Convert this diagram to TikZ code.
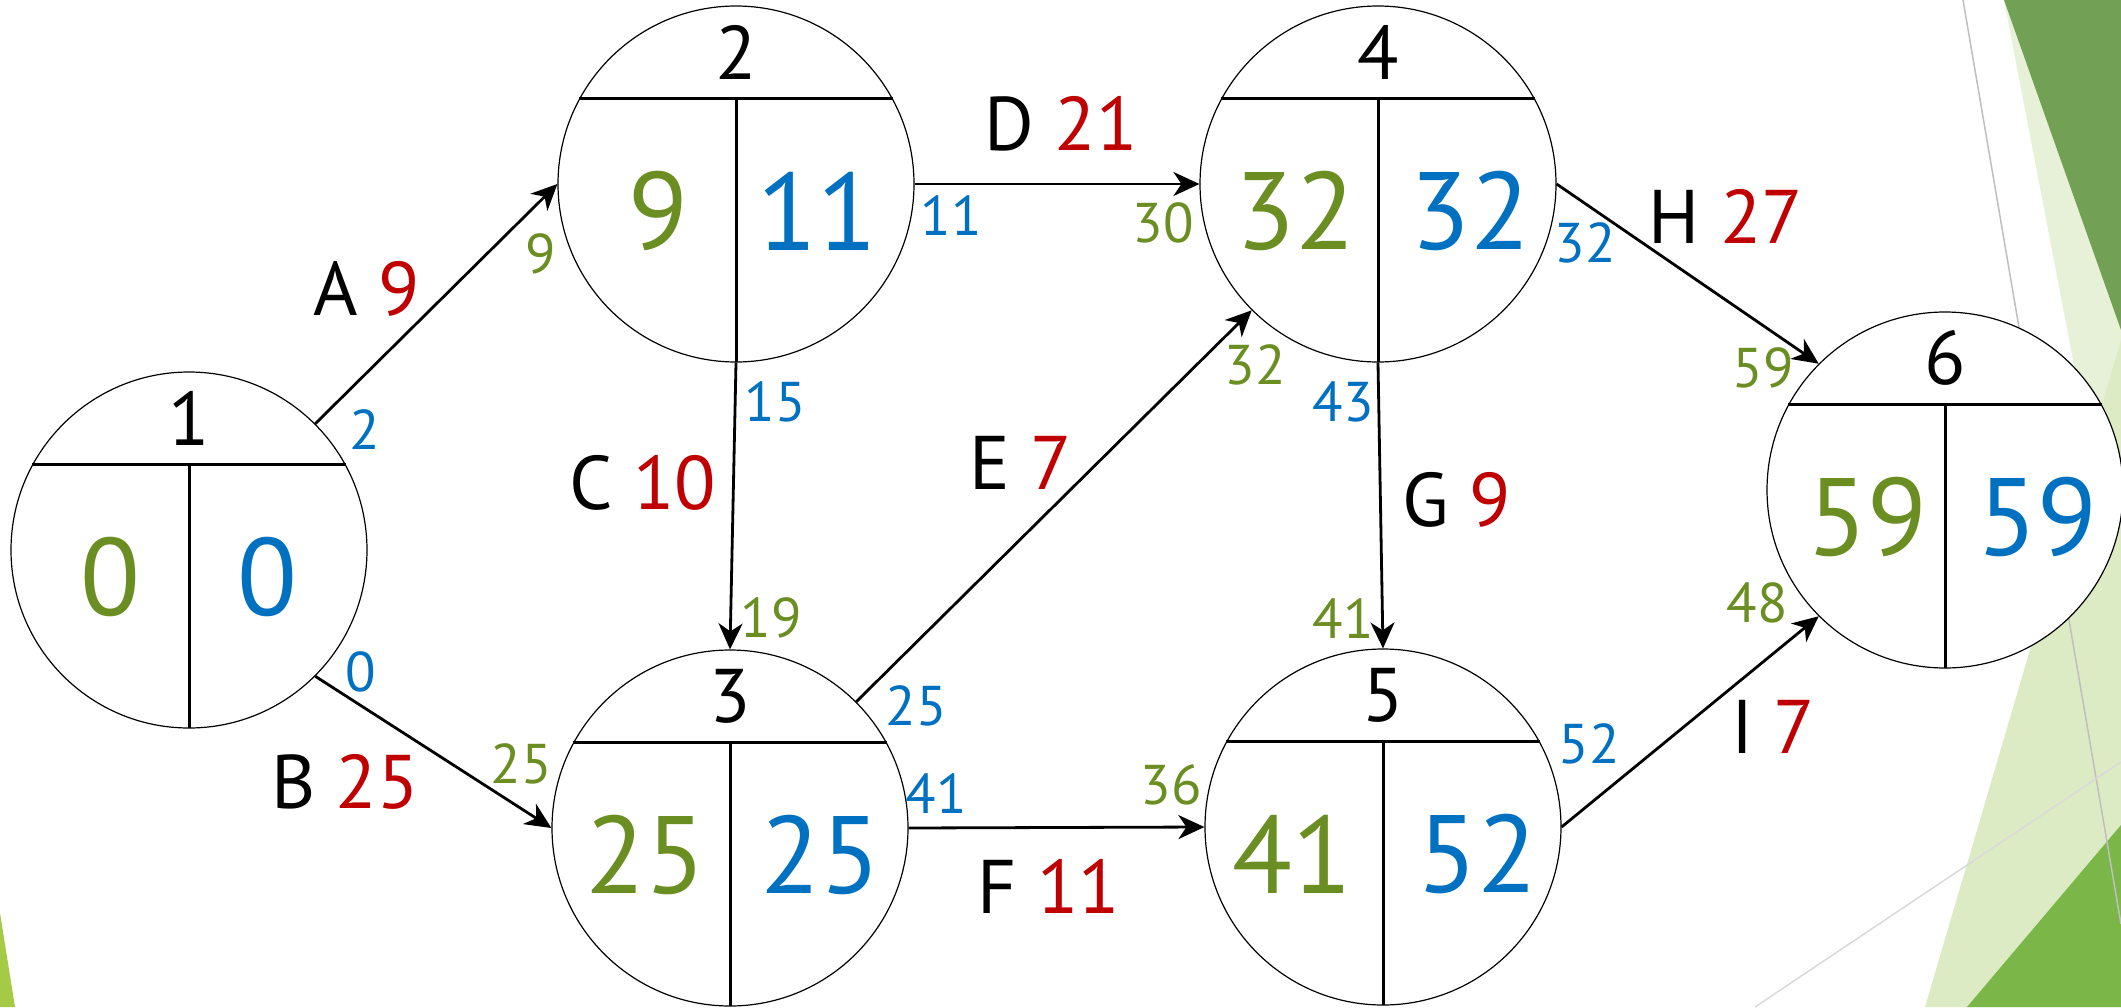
\documentclass[tikz,border=0pt]{standalone}
\usepackage{fontspec}
\setmainfont{PT Sans}
\usetikzlibrary{calc,arrows.meta}
\definecolor{cgreen}{RGB}{107,142,35}
\definecolor{cblue}{RGB}{0,112,192}
\definecolor{cred}{RGB}{192,0,0}
\definecolor{darkleaf}{RGB}{114,160,84}
\definecolor{paleleaf}{RGB}{221,235,196}
\definecolor{paleleafb}{RGB}{231,241,216}
\definecolor{midleaf}{RGB}{122,182,72}
\definecolor{limeleaf}{RGB}{165,203,70}
\begin{document}
\begin{tikzpicture}[x=0.5pt,y=-0.5pt,
  state/.style={circle,draw,line width=0.6pt,fill=white,minimum size=178pt,inner sep=0pt},
  divider/.style={line width=1.5pt},
  arc/.style={line width=1.4pt,-{Stealth[length=13pt,width=12pt,inset=4pt]}},
  idx/.style={inner sep=0pt,font=\fontsize{38}{40}\selectfont},
  big/.style={inner sep=0pt,font=\fontsize{55}{60}\selectfont},
  small/.style={inner sep=0pt,font=\fontsize{28}{30}\selectfont},
  edgelab/.style={inner sep=0pt,font=\fontsize{38}{40}\selectfont},
  thinline/.style={line width=0.75pt}
]
\useasboundingbox[fill=white] (0,0) rectangle (2121,1007);
% background decoration
\fill[paleleafb] (2004,0) -- (2121,0) -- (2121,610) -- cycle;
\fill[paleleaf] (2121,340) -- (2121,1007) -- (1925,1007) -- cycle;
\fill[darkleaf] (2004,0) -- (2121,0) -- (2121,330) -- cycle;
\fill[midleaf] (1967,1007) -- (2121,825) -- (2121,1007) -- cycle;
\fill[limeleaf] (0,913) -- (15,1007) -- (0,1007) -- cycle;
\draw[thinline,gray!50] (1963,0) -- (2121,924);
\draw[thinline,gray!30] (1755,1007) -- (2121,762);
% states
\node[state] (n1) at (189,550) {};
\node[state] (n2) at (736,184) {};
\node[state] (n3) at (730,828) {};
\node[state] (n4) at (1378,184) {};
\node[state] (n5) at (1383,827) {};
\node[state] (n6) at (1945,490) {};
\foreach \n/\i/\e/\l/\dl/\dr in {n1/1/0/0/79/78, n2/2/9/11/78/81, n3/3/25/25/85/90, n4/4/32/32/83/92, n5/5/41/52/91/94, n6/6/59/59/78/92}{
  \draw[divider] ($(\n)+(-157,-86)$) -- ($(\n)+(157,-86)$);
  \draw[divider] ($(\n)+(0,-86)$) -- ($(\n)+(0,178)$);
  \node[idx] (\n-id) at ($(\n)+(0,-132)$) {\i};
  \node[big,text=cgreen] (\n-es) at ($(\n)+(-\dl,27)$) {\e};
  \node[big,text=cblue] (\n-ls) at ($(\n)+(\dr,27)$) {\l};
}
% activities
\draw[arc] (n1.45) -- (n2.west);
\draw[arc] (n1.-45) -- (n3.west);
\draw[arc] (n2.south) -- (n3.north);
\draw[arc] (n2.east) -- (n4.west);
\draw[arc] (n3.45) -- (n4.-135);
\draw[arc] (n3.east) -- (n5.west);
\draw[arc] (n4.south) -- (n5.north);
\draw[arc] (n4.east) -- (n6.135);
\draw[arc] (n5.east) -- (n6.225);
% activity labels
\node[edgelab] (lA) at (367,289) {A \textcolor{cred}{9}};
\node[edgelab] (lB) at (345,782) {B \textcolor{cred}{25}};
\node[edgelab] (lC) at (643,483) {C \textcolor{cred}{10}};
\node[edgelab] (lD) at (1061,124) {D \textcolor{cred}{21}};
\node[edgelab] (lE) at (1021,463) {E \textcolor{cred}{7}};
\node[edgelab] (lF) at (1049,886) {F \textcolor{cred}{11}};
\node[edgelab] (lG) at (1457,500) {G \textcolor{cred}{9}};
\node[edgelab] (lH) at (1726,216) {H \textcolor{cred}{27}};
\node[edgelab] (lI) at (1773,727) {I \textcolor{cred}{7}};
% small numbers
\node[small,text=cblue] (sA1) at (365,430) {2};
\node[small,text=cgreen] (sA2) at (541,254) {9};
\node[small,text=cblue] (sB1) at (361,672) {0};
\node[small,text=cgreen] (sB2) at (521,764) {25};
\node[small,text=cblue] (sC1) at (775,402) {15};
\node[small,text=cgreen] (sC2) at (771,618) {19};
\node[small,text=cblue] (sD1) at (951,216) {11};
\node[small,text=cgreen] (sD2) at (1163,223) {30};
\node[small,text=cblue] (sE1) at (916,706) {25};
\node[small,text=cgreen] (sE2) at (1255,365) {32};
\node[small,text=cblue] (sF1) at (936,794) {41};
\node[small,text=cgreen] (sF2) at (1171,785) {36};
\node[small,text=cblue] (sG1) at (1343,402) {43};
\node[small,text=cgreen] (sG2) at (1343,619) {41};
\node[small,text=cblue] (sH1) at (1585,243) {32};
\node[small,text=cgreen] (sH2) at (1763,368) {59};
\node[small,text=cblue] (sI1) at (1589,744) {52};
\node[small,text=cgreen] (sI2) at (1757,603) {48};
\end{tikzpicture}
\end{document}
